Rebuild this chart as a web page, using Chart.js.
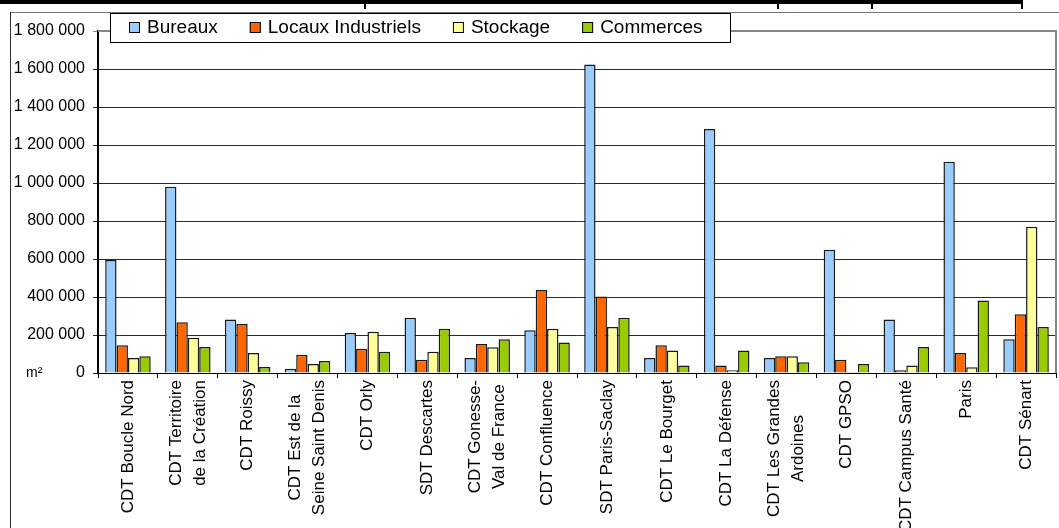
<!DOCTYPE html>
<html>
<head>
<meta charset="utf-8">
<script src="https://cdn.jsdelivr.net/npm/chart.js@4/dist/chart.umd.min.js"></script>
<style>
  html, body { margin:0; padding:0; background:#fff; }
  #wrap { position:relative; width:1059px; height:528px; overflow:hidden; }
</style>
</head>
<body>
<div id="wrap"><canvas id="chart" width="1059" height="528"></canvas></div>
<script>
// surfaces (m²) by territory and by type of premises
const categories = [
  'CDT Boucle Nord',
  ['CDT Territoire', 'de la Création'],
  'CDT Roissy',
  ['CDT Est de la', 'Seine Saint Denis'],
  'CDT Orly',
  'SDT Descartes',
  ['CDT Gonesse-', 'Val de France'],
  'CDT Confluence',
  'SDT Paris-Saclay',
  'CDT Le Bourget',
  'CDT La Défense',
  ['CDT Les Grandes', 'Ardoines'],
  'CDT GPSO',
  'CDT Campus Santé',
  'Paris',
  'CDT Sénart'
];
const seriesNames = ['Bureaux', 'Locaux Industriels', 'Stockage', 'Commerces'];
const bureaux    = [595000, 980000, 282000, 23000, 210000, 291000, 79000, 225000, 1624000, 79000, 1284000, 79000, 649000, 282000, 1112000, 177000];
const locaux     = [146000, 267000, 258000, 96000, 128000, 70000, 153000, 437000, 403000, 146000, 39000, 88000, 70000, 14000, 105000, 309000];
const stockage   = [79000, 186000, 105000, 47000, 217000, 112000, 135000, 233000, 242000, 119000, 14000, 88000, 5000, 39000, 30000, 770000];
const commerces  = [88000, 137000, 32000, 63000, 112000, 233000, 177000, 161000, 291000, 39000, 119000, 56000, 47000, 137000, 381000, 242000];
const yTickLabels = ['0', '200 000', '400 000', '600 000', '800 000', '1 000 000', '1 200 000', '1 400 000', '1 600 000', '1 800 000'];
const unitLabel = 'm²';

const FONT = '"Liberation Sans", Arial, sans-serif';
const colors = ['#99ccff', '#ff6600', '#ffff99', '#99cc00'];

// page frame: heavy rule on top + outline of the chart object
const frame = {
  id: 'frame',
  beforeDraw(chart){
    const ctx = chart.ctx;
    ctx.save();
    ctx.fillStyle = '#000';
    ctx.fillRect(0, 0, 1023, 4);
    [364, 777, 871, 1021].forEach(x => ctx.fillRect(x, 4, 2, 5));
    ctx.lineWidth = 1;
    ctx.strokeStyle = '#777';
    ctx.beginPath(); ctx.moveTo(10, 12.5); ctx.lineTo(1059, 12.5); ctx.stroke();
    ctx.strokeStyle = '#333';
    ctx.beginPath(); ctx.moveTo(10.5, 12); ctx.lineTo(10.5, 528); ctx.stroke();
    ctx.restore();
  }
};

// plot border, rotated category labels (centred lines), unit and legend box
const decor = {
  id: 'decor',
  afterDraw(chart){
    const {ctx, chartArea: a, scales: {x, y}} = chart;
    ctx.save();

    ctx.strokeStyle = '#888';
    ctx.lineWidth = 2;
    ctx.beginPath();
    ctx.moveTo(a.left, a.top); ctx.lineTo(a.right, a.top); ctx.lineTo(a.right, a.bottom);
    ctx.stroke();

    ctx.fillStyle = '#000';
    ctx.font = '17px ' + FONT;
    ctx.textAlign = 'center';
    ctx.textBaseline = 'middle';
    chart.data.labels.forEach((lab, i) => {
      const lines = [].concat(lab);
      const w = Math.max(...lines.map(s => ctx.measureText(s).width));
      ctx.save();
      ctx.translate(x.getPixelForValue(i), x.top + 7);
      ctx.rotate(-Math.PI / 2);
      lines.forEach((s, j) => ctx.fillText(s, -w / 2, (j - (lines.length - 1) / 2) * 24));
      ctx.restore();
    });

    ctx.font = '14px ' + FONT;
    ctx.textAlign = 'left';
    ctx.fillText(unitLabel, 26, y.getPixelForValue(0));

    // legend
    ctx.fillStyle = '#fff';
    ctx.fillRect(110, 13, 620, 29);
    ctx.strokeStyle = '#000';
    ctx.lineWidth = 1;
    ctx.strokeRect(110.5, 13.5, 620, 29);
    ctx.font = '19px ' + FONT;
    ctx.textBaseline = 'middle';
    let lx = 129;
    chart.data.datasets.forEach(ds => {
      ctx.fillStyle = ds.backgroundColor;
      ctx.fillRect(lx, 22, 11, 11);
      ctx.strokeRect(lx + 0.5, 22.5, 10, 10);
      ctx.fillStyle = '#000';
      ctx.fillText(ds.label, lx + 18, 28);
      lx += 18 + ctx.measureText(ds.label).width + 32;
    });
    ctx.restore();
  }
};

const values = [bureaux, locaux, stockage, commerces];

new Chart(document.getElementById('chart'), {
  type: 'bar',
  data: {
    labels: categories,
    datasets: seriesNames.map((name, k) => ({
      label: name,
      data: values[k],
      backgroundColor: colors[k],
      borderColor: '#1a1a1a',
      borderWidth: 1.5,
      barPercentage: 1,
      categoryPercentage: 0.76
    }))
  },
  options: {
    responsive: false,
    animation: false,
    layout: { padding: { top: 31, right: 3, left: 0, bottom: 0 } },
    plugins: { legend: { display: false }, tooltip: { enabled: false } },
    scales: {
      x: {
        grid: { drawOnChartArea: false, drawTicks: true, tickLength: 5, color: '#000', offset: true },
        border: { color: '#000', width: 1 },
        ticks: { display: false },
        afterFit: s => { s.height = 155; }
      },
      y: {
        min: 0, max: 1800000,
        grid: {
          color: c => c.tick && c.tick.value === 1800000 ? '#888' : '#2a2a2a',
          tickLength: 5
        },
        border: { color: '#000', width: 2 },
        ticks: {
          stepSize: 200000,
          padding: 8,
          color: '#000',
          font: { family: FONT, size: 16 },
          callback: (v, i) => yTickLabels[i]
        },
        afterFit: s => { s.width = 98; }
      }
    }
  },
  plugins: [frame, decor]
});
</script>
</body>
</html>
